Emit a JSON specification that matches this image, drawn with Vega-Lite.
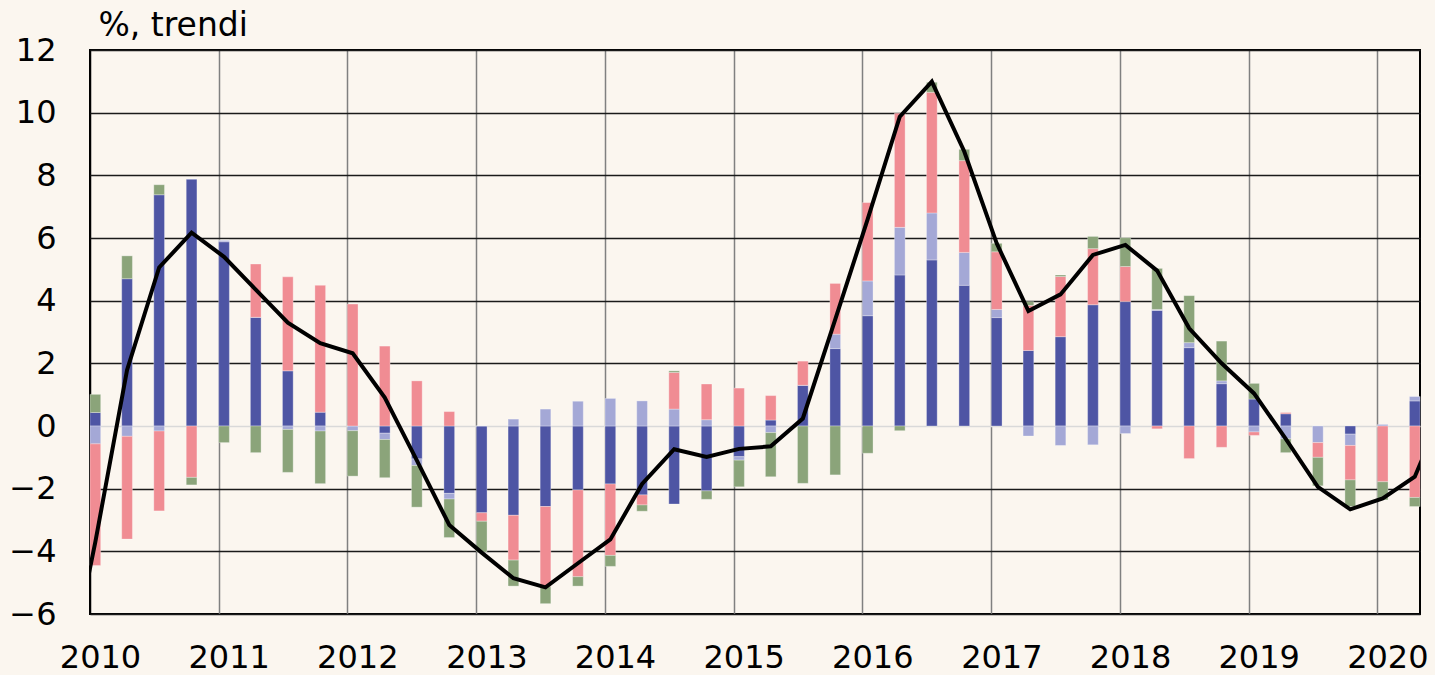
{
  "$schema": "https://vega.github.io/schema/vega-lite/v6.json",
  "width": 1330,
  "height": 564,
  "autosize": {"type": "none"},
  "padding": {"left": 90, "top": 50, "right": 15, "bottom": 61},
  "background": "#FBF6EF",
  "config": {
    "font": "DejaVu Sans",
    "view": {"stroke": "#000000", "strokeWidth": 2}
  },
  "datasets": {
    "osat": [
      {"q": "2010-01-01", "s1": 0.43, "s2": -0.57, "s3": -3.88, "s4": 0.58},
      {"q": "2010-04-01", "s1": 4.70, "s2": -0.33, "s3": -3.28, "s4": 0.73},
      {"q": "2010-07-01", "s1": 7.38, "s2": -0.16, "s3": -2.55, "s4": 0.32},
      {"q": "2010-10-01", "s1": 7.88, "s2": 0, "s3": -1.64, "s4": -0.24},
      {"q": "2011-01-01", "s1": 5.88, "s2": 0.05, "s3": 0, "s4": -0.53},
      {"q": "2011-04-01", "s1": 3.47, "s2": 0, "s3": 1.70, "s4": -0.85},
      {"q": "2011-07-01", "s1": 1.76, "s2": -0.11, "s3": 3.00, "s4": -1.37},
      {"q": "2011-10-01", "s1": 0.44, "s2": -0.16, "s3": 4.05, "s4": -1.68},
      {"q": "2012-01-01", "s1": 0, "s2": -0.15, "s3": 3.89, "s4": -1.45},
      {"q": "2012-04-01", "s1": -0.23, "s2": -0.20, "s3": 2.55, "s4": -1.22},
      {"q": "2012-07-01", "s1": -1.05, "s2": -0.21, "s3": 1.44, "s4": -1.33},
      {"q": "2012-10-01", "s1": -2.15, "s2": -0.18, "s3": 0.46, "s4": -1.23},
      {"q": "2013-01-01", "s1": -2.77, "s2": 0, "s3": -0.27, "s4": -0.98},
      {"q": "2013-04-01", "s1": -2.85, "s2": 0.22, "s3": -1.43, "s4": -0.83},
      {"q": "2013-07-01", "s1": -2.57, "s2": 0.54, "s3": -2.56, "s4": -0.54},
      {"q": "2013-10-01", "s1": -2.04, "s2": 0.79, "s3": -2.77, "s4": -0.30},
      {"q": "2014-01-01", "s1": -1.85, "s2": 0.88, "s3": -2.28, "s4": -0.35},
      {"q": "2014-04-01", "s1": -2.20, "s2": 0.80, "s3": -0.32, "s4": -0.20},
      {"q": "2014-07-01", "s1": -2.49, "s2": 0.54, "s3": 1.17, "s4": 0.05},
      {"q": "2014-10-01", "s1": -2.07, "s2": 0.20, "s3": 1.14, "s4": -0.27},
      {"q": "2015-01-01", "s1": -0.98, "s2": -0.11, "s3": 1.21, "s4": -0.85},
      {"q": "2015-04-01", "s1": 0.19, "s2": -0.21, "s3": 0.78, "s4": -1.41},
      {"q": "2015-07-01", "s1": 1.30, "s2": 0, "s3": 0.77, "s4": -1.83},
      {"q": "2015-10-01", "s1": 2.47, "s2": 0.46, "s3": 1.62, "s4": -1.56},
      {"q": "2016-01-01", "s1": 3.52, "s2": 1.11, "s3": 2.50, "s4": -0.87},
      {"q": "2016-04-01", "s1": 4.82, "s2": 1.52, "s3": 3.64, "s4": -0.15},
      {"q": "2016-07-01", "s1": 5.30, "s2": 1.50, "s3": 3.85, "s4": 0.32},
      {"q": "2016-10-01", "s1": 4.49, "s2": 1.05, "s3": 2.93, "s4": 0.36},
      {"q": "2017-01-01", "s1": 3.46, "s2": 0.26, "s3": 1.84, "s4": 0.27},
      {"q": "2017-04-01", "s1": 2.41, "s2": -0.32, "s3": 1.44, "s4": 0.12},
      {"q": "2017-07-01", "s1": 2.85, "s2": -0.62, "s3": 1.92, "s4": 0.05},
      {"q": "2017-10-01", "s1": 3.87, "s2": -0.60, "s3": 1.79, "s4": 0.39},
      {"q": "2018-01-01", "s1": 3.97, "s2": -0.24, "s3": 1.12, "s4": 0.92},
      {"q": "2018-04-01", "s1": 3.69, "s2": 0.03, "s3": -0.09, "s4": 1.31},
      {"q": "2018-07-01", "s1": 2.50, "s2": 0.16, "s3": -1.04, "s4": 1.50},
      {"q": "2018-10-01", "s1": 1.35, "s2": 0.09, "s3": -0.68, "s4": 1.27},
      {"q": "2019-01-01", "s1": 0.86, "s2": -0.19, "s3": -0.11, "s4": 0.50},
      {"q": "2019-04-01", "s1": 0.39, "s2": -0.41, "s3": 0.04, "s4": -0.44},
      {"q": "2019-07-01", "s1": 0, "s2": -0.53, "s3": -0.47, "s4": -0.91},
      {"q": "2019-10-01", "s1": -0.26, "s2": -0.36, "s3": -1.10, "s4": -0.85},
      {"q": "2020-01-01", "s1": 0, "s2": 0.05, "s3": -1.78, "s4": -0.58},
      {"q": "2020-04-01", "s1": 0.80, "s2": 0.14, "s3": -2.28, "s4": -0.29}
    ],
    "trendi": [
      {"q": "2009-10-01", "v": -8.8},
      {"q": "2010-01-01", "v": -3.70},
      {"q": "2010-04-01", "v": 1.79},
      {"q": "2010-07-01", "v": 5.06},
      {"q": "2010-10-01", "v": 6.17},
      {"q": "2011-01-01", "v": 5.40},
      {"q": "2011-04-01", "v": 4.35},
      {"q": "2011-07-01", "v": 3.30},
      {"q": "2011-10-01", "v": 2.64},
      {"q": "2012-01-01", "v": 2.32},
      {"q": "2012-04-01", "v": 0.91},
      {"q": "2012-07-01", "v": -1.10},
      {"q": "2012-10-01", "v": -3.16},
      {"q": "2013-01-01", "v": -4.04},
      {"q": "2013-04-01", "v": -4.86},
      {"q": "2013-07-01", "v": -5.15},
      {"q": "2013-10-01", "v": -4.38},
      {"q": "2014-01-01", "v": -3.62},
      {"q": "2014-04-01", "v": -1.85},
      {"q": "2014-07-01", "v": -0.74},
      {"q": "2014-10-01", "v": -0.99},
      {"q": "2015-01-01", "v": -0.73},
      {"q": "2015-04-01", "v": -0.65},
      {"q": "2015-07-01", "v": 0.24},
      {"q": "2015-10-01", "v": 3.40},
      {"q": "2016-01-01", "v": 6.60},
      {"q": "2016-04-01", "v": 9.87},
      {"q": "2016-07-01", "v": 10.99},
      {"q": "2016-10-01", "v": 8.76},
      {"q": "2017-01-01", "v": 5.83},
      {"q": "2017-04-01", "v": 3.67},
      {"q": "2017-07-01", "v": 4.20},
      {"q": "2017-10-01", "v": 5.46},
      {"q": "2018-01-01", "v": 5.78},
      {"q": "2018-04-01", "v": 4.96},
      {"q": "2018-07-01", "v": 3.12},
      {"q": "2018-10-01", "v": 2.00},
      {"q": "2019-01-01", "v": 1.04},
      {"q": "2019-04-01", "v": -0.41},
      {"q": "2019-07-01", "v": -1.94},
      {"q": "2019-10-01", "v": -2.66},
      {"q": "2020-01-01", "v": -2.31},
      {"q": "2020-04-01", "v": -1.62},
      {"q": "2020-07-01", "v": 0.8}
    ]
  },
  "layer": [
    {
      "data": {"name": "osat"},
      "transform": [{"fold": ["s1", "s2", "s3", "s4"], "as": ["sarja", "arvo"]}],
      "mark": {"type": "bar", "width": 10.7, "xOffset": 5.35, "stroke": "#ffffff", "strokeWidth": 0.6, "strokeOpacity": 0.5},
      "encoding": {
        "x": {
          "field": "q", "type": "temporal",
          "scale": {"type": "utc", "padding": 0, "domain": [{"year": 2010, "month": 1, "date": 1, "utc": true}, {"year": 2020, "month": 5, "date": 1, "utc": true}]},
          "axis": {
            "title": null,
            "values": [
              {"year": 2010, "month": 1, "date": 1, "utc": true},
              {"year": 2011, "month": 1, "date": 1, "utc": true},
              {"year": 2012, "month": 1, "date": 1, "utc": true},
              {"year": 2013, "month": 1, "date": 1, "utc": true},
              {"year": 2014, "month": 1, "date": 1, "utc": true},
              {"year": 2015, "month": 1, "date": 1, "utc": true},
              {"year": 2016, "month": 1, "date": 1, "utc": true},
              {"year": 2017, "month": 1, "date": 1, "utc": true},
              {"year": 2018, "month": 1, "date": 1, "utc": true},
              {"year": 2019, "month": 1, "date": 1, "utc": true},
              {"year": 2020, "month": 1, "date": 1, "utc": true}
            ],
            "labelExpr": "utcFormat(datum.value, '%Y')",
            "labelFontSize": 32,
            "labelColor": "#000000",
            "labelBaseline": "alphabetic",
            "labelPadding": 53,
            "labelOffset": 10,
            "labelFlush": false,
            "labelOverlap": false,
            "labelBound": false,
            "ticks": false,
            "tickSize": 0,
            "domain": false,
            "grid": true,
            "gridColor": {"condition": {"test": "utcyear(datum.value) === 2010", "value": "#000000"}, "value": "#808080"},
            "gridWidth": 1.5
          }
        },
        "y": {
          "field": "arvo", "type": "quantitative", "stack": "zero",
          "scale": {"domain": [-6, 12], "nice": false, "zero": false},
          "axis": {
            "values": [-6, -4, -2, 0, 2, 4, 6, 8, 10, 12],
            "title": "%, trendi",
            "titleAngle": 0,
            "titleAlign": "left",
            "titleBaseline": "alphabetic",
            "titleX": 8,
            "titleY": -15,
            "titleFontSize": 33,
            "titleFontWeight": "normal",
            "titleColor": "#000000",
            "labelFontSize": 32,
            "labelColor": "#000000",
            "labelPadding": 34,
            "ticks": false,
            "tickSize": 0,
            "domain": false,
            "grid": true,
            "gridColor": {"condition": {"test": "datum.value === 0", "value": "#d9d9d9"}, "value": "#1a1a1a"},
            "gridWidth": 1.5
          }
        },
        "color": {
          "field": "sarja", "type": "nominal",
          "scale": {"domain": ["s1", "s2", "s3", "s4"], "range": ["#4E55A4", "#A4A8D6", "#F08C93", "#8BA47A"]},
          "legend": null
        },
        "order": {"field": "sarja", "sort": "ascending"}
      }
    },
    {
      "mark": {"type": "rule", "color": "#d9d9d9", "strokeWidth": 2},
      "encoding": {"y": {"datum": 0, "type": "quantitative"}}
    },
    {
      "data": {"name": "trendi"},
      "mark": {"type": "line", "color": "#000000", "strokeWidth": 4, "xOffset": 5.35, "clip": true, "strokeJoin": "miter"},
      "encoding": {
        "x": {"field": "q", "type": "temporal"},
        "y": {"field": "v", "type": "quantitative"}
      }
    }
  ]
}
